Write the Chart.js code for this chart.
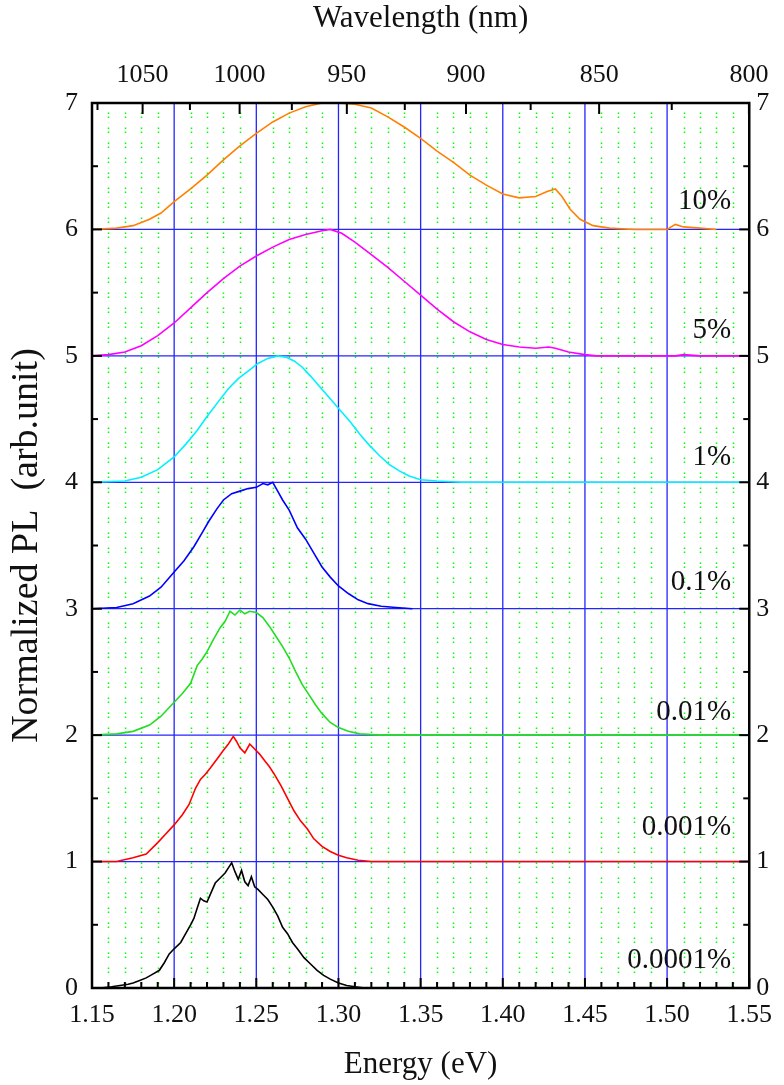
<!DOCTYPE html>
<html>
<head>
<meta charset="utf-8">
<script src="https://cdn.jsdelivr.net/npm/chart.js@4.4.1/dist/chart.umd.min.js"></script>
<style>
  html, body { margin: 0; padding: 0; background: #fff; }
  canvas { display: block; }
</style>
</head>
<body>
<canvas id="pl-chart" width="784" height="1085"></canvas>
<script>
// tick values
const energyTicks = [1.15, 1.20, 1.25, 1.30, 1.35, 1.40, 1.45, 1.50, 1.55];
const energyMinor = [1.16, 1.17, 1.18, 1.19, 1.21, 1.22, 1.23, 1.24, 1.26, 1.27, 1.28, 1.29, 1.31, 1.32, 1.33, 1.34,
  1.36, 1.37, 1.38, 1.39, 1.41, 1.42, 1.43, 1.44, 1.46, 1.47, 1.48, 1.49, 1.51, 1.52, 1.53, 1.54];
const wavelengthTicks = [1075, 1050, 1025, 1000, 975, 950, 925, 900, 875, 850, 825, 800];
const wavelengthLabels = ['', '1050', '', '1000', '', '950', '', '900', '', '850', '', '800'];
const plTicks = [0, 1, 2, 3, 4, 5, 6, 7];
const plMinor = [0.5, 1.5, 2.5, 3.5, 4.5, 5.5, 6.5];
const baselines = [1, 2, 3, 4, 5, 6];
const HC = 1239.84; // eV*nm

// series (normalized PL, stacked by offset)
const labels = ['0.0001%', '0.001%', '0.01%', '0.1%', '1%', '5%', '10%'];
const offsets = [0, 1, 2, 3, 4, 5, 6];
const colors = ['#000000', '#ff0000', '#22dd22', '#0000ff', '#00f0ff', '#ff00ff', '#ff8000'];
const labelY = [0.22, 1.27, 2.18, 3.21, 4.20, 5.20, 6.22];

const e0001 = [1.150, 1.155, 1.162, 1.167, 1.172, 1.175, 1.179, 1.183, 1.187, 1.191, 1.194, 1.197, 1.200, 1.204, 1.207,
  1.210, 1.212, 1.214, 1.216, 1.218, 1.220, 1.223, 1.225, 1.228, 1.231, 1.233, 1.235, 1.237, 1.239, 1.241, 1.243, 1.245,
  1.247, 1.249, 1.251, 1.254, 1.257, 1.260, 1.263, 1.266, 1.269, 1.272, 1.275, 1.279, 1.283, 1.287, 1.291, 1.295, 1.300,
  1.305, 1.310, 1.316, 1.320];
const pl0001 = [0.00, 0.00, 0.01, 0.02, 0.03, 0.04, 0.06, 0.08, 0.11, 0.14, 0.20, 0.27, 0.31, 0.36, 0.43,
  0.50, 0.55, 0.63, 0.71, 0.69, 0.68, 0.77, 0.83, 0.87, 0.91, 0.95, 0.99, 0.92, 0.86, 0.93, 0.84, 0.81,
  0.88, 0.80, 0.78, 0.74, 0.70, 0.64, 0.57, 0.48, 0.43, 0.36, 0.31, 0.24, 0.19, 0.14, 0.10, 0.07, 0.04,
  0.02, 0.01, 0.00, 0.00];

const e001 = [1.150, 1.165, 1.175, 1.183, 1.190, 1.195, 1.200, 1.205, 1.209, 1.213, 1.216, 1.219, 1.222, 1.226, 1.230,
  1.233, 1.236, 1.238, 1.240, 1.243, 1.246, 1.249, 1.252, 1.255, 1.258, 1.261, 1.265, 1.269, 1.273, 1.277, 1.281, 1.285,
  1.290, 1.295, 1.300, 1.305, 1.312, 1.320, 1.550];
const pl001 = [0.00, 0.00, 0.03, 0.06, 0.15, 0.22, 0.29, 0.37, 0.45, 0.58, 0.65, 0.69, 0.74, 0.81, 0.88,
  0.93, 0.99, 0.95, 0.90, 0.86, 0.93, 0.89, 0.85, 0.80, 0.75, 0.69, 0.60, 0.50, 0.40, 0.32, 0.26, 0.18,
  0.12, 0.08, 0.05, 0.03, 0.01, 0.00, 0.00];

const e01 = [1.150, 1.165, 1.175, 1.185, 1.192, 1.200, 1.205, 1.210, 1.214, 1.217, 1.220, 1.224, 1.228, 1.231, 1.234,
  1.237, 1.240, 1.243, 1.246, 1.250, 1.254, 1.258, 1.262, 1.266, 1.270, 1.274, 1.278, 1.282, 1.286, 1.290, 1.295, 1.300,
  1.306, 1.313, 1.325, 1.550];
const pl01 = [0.00, 0.01, 0.03, 0.08, 0.15, 0.26, 0.33, 0.41, 0.55, 0.60, 0.66, 0.76, 0.85, 0.90, 0.98,
  0.95, 0.99, 0.96, 0.98, 0.97, 0.93, 0.86, 0.78, 0.70, 0.61, 0.50, 0.40, 0.32, 0.24, 0.17, 0.10, 0.06,
  0.03, 0.01, 0.00, 0.00];

const e1 = [1.150, 1.165, 1.175, 1.185, 1.192, 1.200, 1.206, 1.212, 1.217, 1.221, 1.226, 1.230, 1.235, 1.240, 1.245,
  1.250, 1.254, 1.257, 1.260, 1.263, 1.266, 1.270, 1.275, 1.280, 1.285, 1.290, 1.295, 1.300, 1.306, 1.312, 1.318, 1.326,
  1.335, 1.345];
const pl1 = [0.00, 0.01, 0.04, 0.10, 0.17, 0.29, 0.38, 0.49, 0.60, 0.69, 0.79, 0.86, 0.91, 0.93, 0.95,
  0.96, 0.99, 0.98, 1.00, 0.93, 0.86, 0.78, 0.64, 0.55, 0.44, 0.33, 0.25, 0.18, 0.12, 0.07, 0.04, 0.02,
  0.01, 0.00];

const e10 = [1.150, 1.170, 1.180, 1.190, 1.200, 1.207, 1.214, 1.220, 1.227, 1.233, 1.239, 1.245, 1.251, 1.257, 1.263,
  1.268, 1.273, 1.278, 1.283, 1.289, 1.295, 1.301, 1.307, 1.313, 1.319, 1.325, 1.331, 1.337, 1.343, 1.350, 1.360, 1.375,
  1.550];
const pl10 = [0.00, 0.01, 0.04, 0.10, 0.20, 0.30, 0.41, 0.52, 0.64, 0.74, 0.82, 0.88, 0.94, 0.98, 1.00,
  0.99, 0.96, 0.91, 0.84, 0.75, 0.66, 0.57, 0.48, 0.38, 0.29, 0.21, 0.14, 0.09, 0.05, 0.02, 0.01, 0.00,
  0.00];

const e50 = [1.150, 1.160, 1.170, 1.180, 1.190, 1.200, 1.210, 1.220, 1.230, 1.240, 1.250, 1.260, 1.270, 1.280, 1.290,
  1.295, 1.302, 1.310, 1.320, 1.330, 1.340, 1.350, 1.360, 1.370, 1.380, 1.390, 1.400, 1.410, 1.420, 1.428, 1.432, 1.440,
  1.450, 1.457, 1.505, 1.510, 1.520, 1.550];
const pl50 = [0.00, 0.01, 0.03, 0.08, 0.16, 0.26, 0.38, 0.50, 0.61, 0.71, 0.79, 0.86, 0.92, 0.96, 0.99,
  1.00, 0.97, 0.90, 0.80, 0.70, 0.59, 0.48, 0.37, 0.27, 0.19, 0.13, 0.09, 0.07, 0.06, 0.07, 0.06, 0.03,
  0.01, 0.00, 0.00, 0.01, 0.00, 0.00];

const e100 = [1.150, 1.165, 1.175, 1.185, 1.192, 1.200, 1.210, 1.220, 1.230, 1.240, 1.250, 1.260, 1.270, 1.280, 1.290,
  1.300, 1.310, 1.320, 1.330, 1.340, 1.350, 1.360, 1.370, 1.380, 1.390, 1.400, 1.410, 1.420, 1.427, 1.432, 1.436, 1.441,
  1.447, 1.455, 1.465, 1.480, 1.500, 1.505, 1.510, 1.520, 1.530];
const pl100 = [0.00, 0.01, 0.03, 0.08, 0.13, 0.22, 0.32, 0.43, 0.55, 0.66, 0.76, 0.85, 0.92, 0.97, 1.00,
  1.00, 0.99, 0.96, 0.89, 0.81, 0.72, 0.62, 0.53, 0.43, 0.35, 0.28, 0.25, 0.26, 0.30, 0.32, 0.26, 0.16,
  0.08, 0.03, 0.01, 0.00, 0.00, 0.04, 0.02, 0.01, 0.00];

const energies = [e0001, e001, e01, e1, e10, e50, e100];
const spectra = [pl0001, pl001, pl01, pl1, pl10, pl50, pl100];

const SERIF = '"Liberation Serif", "Times New Roman", serif';

const datasets = labels.map((name, i) => ({
  label: name,
  data: energies[i].map((e, k) => ({ x: e, y: spectra[i][k] + offsets[i] })),
  borderColor: colors[i],
  borderWidth: 1.6,
  pointRadius: 0,
  tension: 0,
  fill: false
}));

const framePlugin = {
  id: 'frame',
  beforeDatasetsDraw(chart) {
    const { ctx, chartArea: a, scales: { x, y } } = chart;
    ctx.save();
    // green dotted minor grid
    ctx.strokeStyle = '#00ff00';
    ctx.lineWidth = 1.5;
    ctx.setLineDash([1.5, 2.5, 1.5, 9.5]);
    energyMinor.forEach(v => {
      const px = Math.round(x.getPixelForValue(v)) + 0.5;
      ctx.beginPath(); ctx.moveTo(px, a.bottom); ctx.lineTo(px, a.top); ctx.stroke();
    });
    ctx.setLineDash([]);
    // blue major grid
    ctx.strokeStyle = '#2424ff';
    ctx.lineWidth = 1.3;
    energyTicks.slice(1, -1).forEach(v => {
      const px = x.getPixelForValue(v);
      ctx.beginPath(); ctx.moveTo(px, a.top); ctx.lineTo(px, a.bottom); ctx.stroke();
    });
    baselines.forEach(v => {
      const py = y.getPixelForValue(v);
      ctx.beginPath(); ctx.moveTo(a.left, py); ctx.lineTo(a.right, py); ctx.stroke();
    });
    ctx.restore();
  },
  afterDatasetsDraw(chart) {
    const { ctx, chartArea: a, scales: { x, x2, y } } = chart;
    ctx.save();
    ctx.strokeStyle = '#000';
    ctx.lineWidth = 2;
    const vtick = (px, y0, len) => { ctx.beginPath(); ctx.moveTo(px, y0); ctx.lineTo(px, y0 + len); ctx.stroke(); };
    const htick = (py, x0, len) => { ctx.beginPath(); ctx.moveTo(x0, py); ctx.lineTo(x0 + len, py); ctx.stroke(); };
    energyTicks.forEach(v => vtick(x.getPixelForValue(v), a.bottom, -10));
    energyMinor.forEach(v => vtick(x.getPixelForValue(v), a.bottom, -6));
    wavelengthTicks.forEach((w, i) => vtick(x2.getPixelForValue(HC / w), a.top, wavelengthLabels[i] ? 11 : 7));
    plTicks.forEach(v => { htick(y.getPixelForValue(v), a.left, 10); htick(y.getPixelForValue(v), a.right, -10); });
    plMinor.forEach(v => { htick(y.getPixelForValue(v), a.left, 6); htick(y.getPixelForValue(v), a.right, -6); });
    ctx.lineWidth = 2.5;
    ctx.strokeRect(a.left, a.top, a.right - a.left, a.bottom - a.top);
    // concentration labels
    ctx.fillStyle = '#111';
    ctx.font = '29px ' + SERIF;
    ctx.textAlign = 'right';
    ctx.textBaseline = 'middle';
    labels.forEach((name, i) => ctx.fillText(name, x.getPixelForValue(1.539), y.getPixelForValue(labelY[i])));
    ctx.restore();
  }
};

const tickFont = { family: SERIF, size: 26 };
const titleFont = { family: SERIF, size: 31 };

new Chart(document.getElementById('pl-chart'), {
  type: 'line',
  data: { datasets },
  plugins: [framePlugin],
  options: {
    responsive: false,
    animation: false,
    devicePixelRatio: 1,
    layout: { padding: 0 },
    plugins: { legend: { display: false }, tooltip: { enabled: false } },
    scales: {
      x: {
        type: 'linear', position: 'bottom', min: 1.15, max: 1.55,
        afterBuildTicks: s => { s.ticks = energyTicks.map(v => ({ value: v })); },
        afterFit: s => { s.height = 97; },
        ticks: { callback: v => v.toFixed(2), font: tickFont, color: '#111', padding: 12, autoSkip: false, maxRotation: 0 },
        grid: { display: false, drawTicks: false },
        border: { display: false },
        title: { display: true, text: 'Energy (eV)', font: titleFont, color: '#111', padding: { top: 0, bottom: 2 } }
      },
      x2: {
        type: 'linear', position: 'top', min: 1.15, max: 1.55,
        afterBuildTicks: s => { s.ticks = wavelengthTicks.map(w => ({ value: HC / w })); },
        afterFit: s => { s.height = 103; },
        ticks: { callback: (v, i) => wavelengthLabels[i], font: tickFont, color: '#111', padding: 12, autoSkip: false, maxRotation: 0 },
        grid: { display: false, drawTicks: false },
        border: { display: false },
        title: { display: true, text: 'Wavelength (nm)', font: titleFont, color: '#111', padding: { top: 0, bottom: 0 } }
      },
      y: {
        type: 'linear', position: 'left', min: 0, max: 7,
        afterBuildTicks: s => { s.ticks = plTicks.map(v => ({ value: v })); },
        afterFit: s => { s.width = 92; },
        ticks: { font: tickFont, color: '#111', padding: 14 },
        grid: { display: false, drawTicks: false },
        border: { display: false },
        title: { display: true, text: 'Normalized PL  (arb.unit)', font: { family: SERIF, size: 38 }, color: '#111', padding: { top: 4, bottom: 0 } }
      },
      y2: {
        type: 'linear', position: 'right', min: 0, max: 7,
        afterBuildTicks: s => { s.ticks = plTicks.map(v => ({ value: v })); },
        afterFit: s => { s.width = 28; },
        ticks: { font: tickFont, color: '#111', padding: 7 },
        grid: { display: false, drawTicks: false },
        border: { display: false }
      }
    }
  }
});
</script>
</body>
</html>
